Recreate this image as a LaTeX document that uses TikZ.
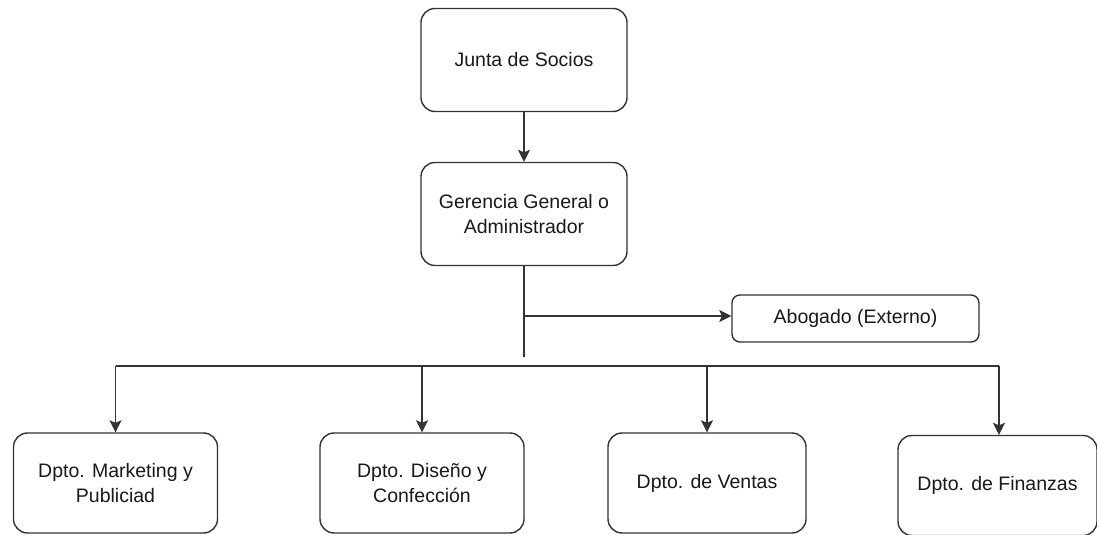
\documentclass[tikz,border=0pt]{standalone}
\usepackage{fontspec}
\setmainfont{Liberation Sans}
\usetikzlibrary{arrows.meta}
\tikzset{
  box/.style={draw=black!80,line width=1.4bp,rounded corners=14bp,fill=white,align=center,
    text=black!90,font=\fontsize{19.5bp}{25bp}\selectfont,inner sep=0pt},
  bigbox/.style={box,minimum width=206bp,minimum height=103bp},
  deptbox/.style={box,minimum width=204bp,minimum height=100bp},
  link/.style={draw=black!80,line width=1.5bp},
}
\begin{document}
\begin{tikzpicture}[>={Stealth[length=12bp,width=12bp,inset=2.5bp]},line join=bevel,]
\useasboundingbox (0bp,0bp) rectangle (1097bp,535bp);
%%
\node (node_junta) at (524bp,475bp) [bigbox] {Junta de Socios};
  \node (node_gerencia) at (524bp,321bp) [bigbox] {Gerencia General o\\Administrador};
  \node (node_abogado) at (855.5bp,216.5bp) [box,rounded corners=8bp,minimum width=247bp,minimum height=47bp] {Abogado (Externo)};
  \node (node_marketing) at (115.5bp,52bp) [deptbox] {Dpto. Marketing y\\Publiciad};
  \node (node_diseno) at (422bp,52bp) [deptbox] {Dpto. Diseño y\\Confección};
  \node (node_ventas) at (707bp,52bp) [deptbox,minimum width=198bp] {Dpto. de Ventas};
  \node (node_finanzas) at (997.5bp,49.5bp) [deptbox,minimum width=199bp] {Dpto. de Finanzas};
  \coordinate (stem_end) at (524bp,178bp);
  \coordinate (branch) at (524bp,219bp);
  \coordinate (bus_l) at (115.5bp,169bp);
  \coordinate (bus_r) at (999bp,169bp);
%
  \draw [link,->] (node_junta) -- (node_gerencia);
  \draw [link] (node_gerencia) -- (stem_end);
  \draw [link,->] (branch) -- (branch -| node_abogado.west);
  \draw [link] (bus_l) -- (bus_r);
  \draw [link,->] (bus_l) -- (node_marketing);
  \draw [link,->] (node_diseno.north |- bus_l) -- (node_diseno);
  \draw [link,->] (node_ventas.north |- bus_l) -- (node_ventas);
  \draw [link,->] (bus_r) -- (bus_r |- node_finanzas.north);
%
\end{tikzpicture}
\end{document}
